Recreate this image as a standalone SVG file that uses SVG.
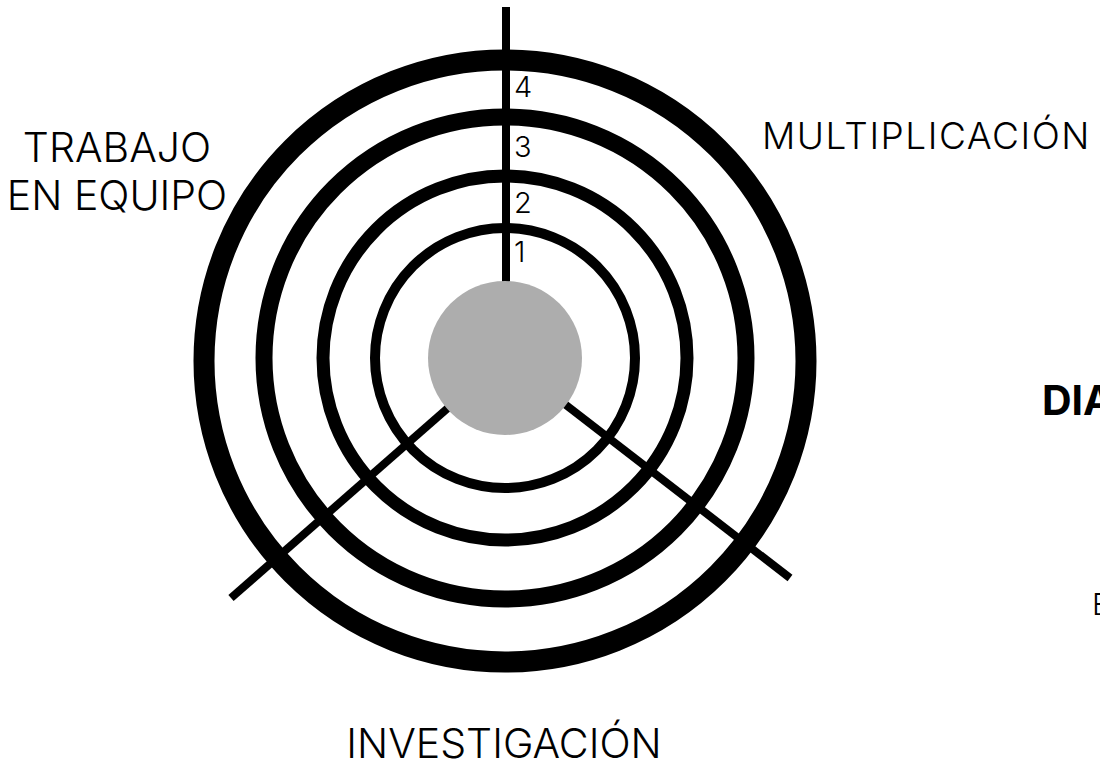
<svg xmlns="http://www.w3.org/2000/svg" width="1100" height="761" viewBox="0 0 1100 761">
<style>
.ring{fill:none;stroke:#000}
.spoke{stroke:#000;stroke-width:8;fill:none}
.lbl{font-family:Inter,"Open Sans","Liberation Sans",sans-serif;font-weight:300;fill:#000}
.num{font-family:Inter,"Open Sans","Liberation Sans",sans-serif;font-weight:300;font-size:29px;fill:#000}
</style>
<rect width="1100" height="761" fill="#fff"/>
<g id="connectors">
<line class="spoke" x1="506" y1="7" x2="506" y2="358"/>
<line class="spoke" x1="231" y1="598" x2="505" y2="358"/>
<line class="spoke" x1="790" y1="578" x2="505" y2="358"/>
</g>
<g id="rings">
<circle id="ring1" class="ring" cx="505" cy="358" r="130" stroke-width="10"/>
<circle id="ring2" class="ring" cx="505" cy="358" r="182" stroke-width="13"/>
<circle id="ring3" class="ring" cx="505" cy="358" r="241" stroke-width="17"/>
<circle id="ring4" class="ring" cx="505" cy="361" r="301" stroke-width="21"/>
</g>
<g id="center"><circle cx="505" cy="358" r="77" fill="#ADADAD"/></g>
<g id="numbers">
<text class="num" x="514" y="97">4</text>
<text class="num" x="514" y="157">3</text>
<text class="num" x="514" y="213">2</text>
<text class="num" x="514" y="262">1</text>
</g>
<g id="label-trabajo">
<text class="lbl" x="117" y="162" font-size="41" text-anchor="middle">TRABAJO</text>
<text class="lbl" x="117" y="210" font-size="41" text-anchor="middle">EN EQUIPO</text>
</g>
<g id="label-multiplicacion"><text class="lbl" x="762" y="149" font-size="37" letter-spacing="1.5">MULTIPLICACIÓN</text></g>
<g id="label-investigacion"><text class="lbl" x="504" y="758" font-size="41" text-anchor="middle">INVESTIGACIÓN</text></g>
<g id="label-dia"><text x="1042" y="415" font-family="Inter,'Liberation Sans',sans-serif" font-weight="700" font-size="41">DIA</text></g>
<g id="label-e"><text class="lbl" x="1092" y="615" font-size="30">E</text></g>
</svg>
